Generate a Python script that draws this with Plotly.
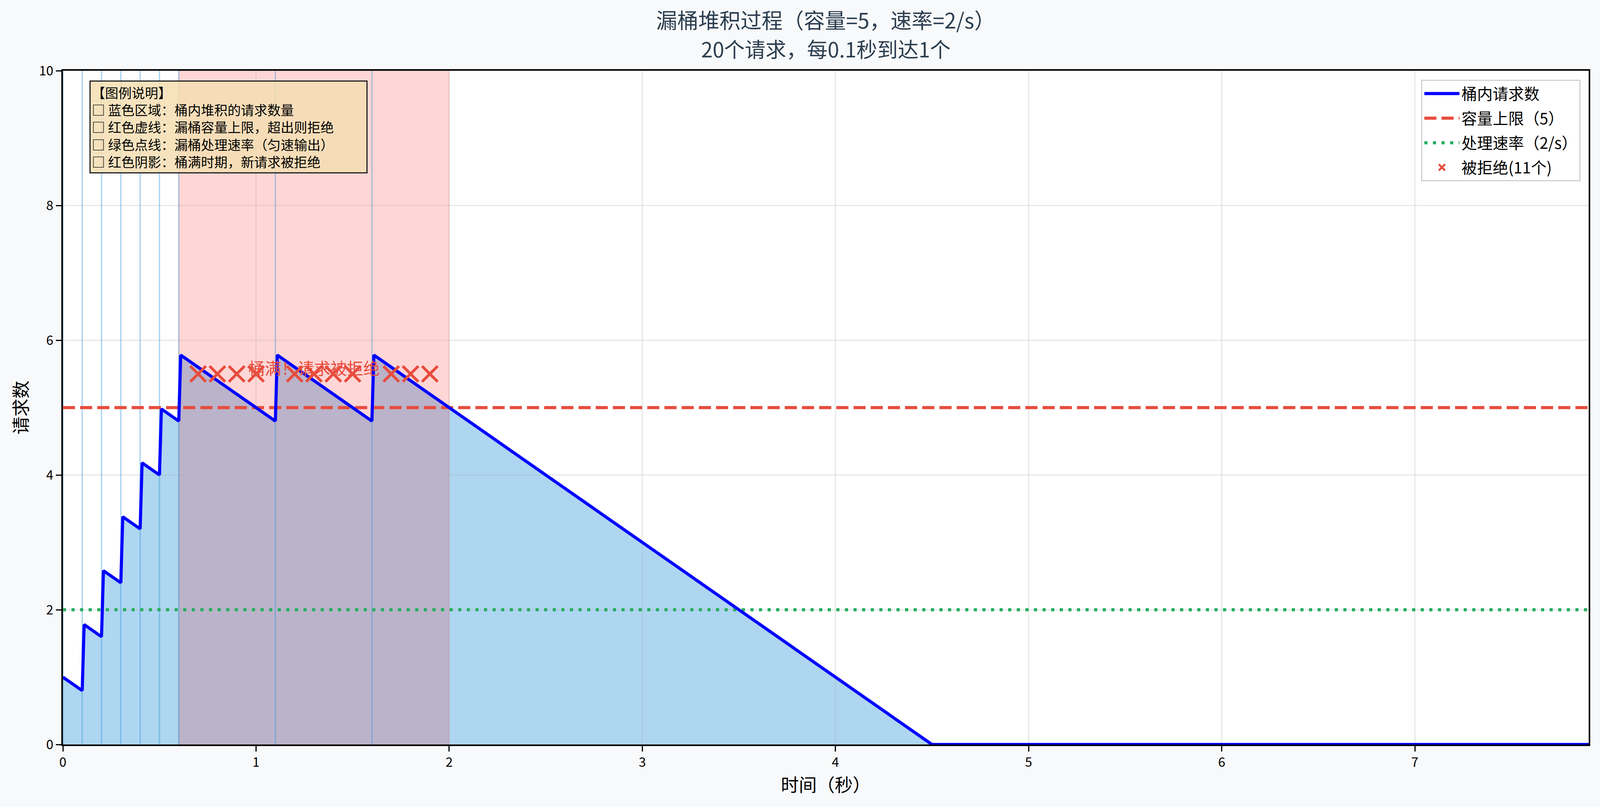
import plotly.graph_objects as go

# 漏桶参数
capacity = 5
rate = 2
x_max = 7.9
y_max = 10

# 桶内请求数（折线顶点，读自原图）
t_level = [0.00, 0.10, 0.11, 0.20, 0.21, 0.30, 0.31, 0.40, 0.41, 0.50, 0.51,
           0.60, 0.61, 1.10, 1.11, 1.60, 1.61, 4.50, 7.90]
level = [1.00, 0.80, 1.78, 1.60, 2.58, 2.40, 3.38, 3.20, 4.18, 4.00, 4.98,
         4.80, 5.78, 4.80, 5.78, 4.80, 5.78, 0.00, 0.00]

# 请求到达时间
accepted_t = [0.0, 0.1, 0.2, 0.3, 0.4, 0.5, 0.6, 1.1, 1.6]
rejected_t = [0.7, 0.8, 0.9, 1.0, 1.2, 1.3, 1.4, 1.5, 1.7, 1.8, 1.9]
rejected_y = 5.5

# 桶满时期
full_start = 0.6
full_end = 2.0

x_ticks = [0, 1, 2, 3, 4, 5, 6, 7]
y_ticks = [0, 2, 4, 6, 8, 10]

title_1 = "漏桶堆积过程（容量=5，速率=2/s）"
title_2 = "20个请求，每0.1秒到达1个"

info_lines = [
    "【图例说明】",
    "□ 蓝色区域：桶内堆积的请求数量",
    "□ 红色虚线：漏桶容量上限，超出则拒绝",
    "□ 绿色点线：漏桶处理速率（匀速输出）",
    "□ 红色阴影：桶满时期，新请求被拒绝",
]

FONT = "Noto Sans CJK SC"
RED = "#e74c3c"
GREEN = "#27ae60"

W, H = 4168, 2066
ML, MR, MT, MB = 161, 29, 181, 160


def px_x(p):
    return (p - ML) / (W - ML - MR)


def px_y(p):
    return (H - MB - p) / (H - MT - MB)


fig = go.Figure()

# 蓝色填充区域
fig.add_trace(go.Scatter(x=t_level, y=level, mode="lines", fill="tozeroy",
                         line=dict(width=0), fillcolor="rgba(52,152,219,0.4)",
                         showlegend=False, hoverinfo="skip"))

# 桶满阴影
fig.add_trace(go.Scatter(x=[full_start, full_end, full_end, full_start, full_start],
                         y=[0, 0, y_max, y_max, 0], mode="lines", fill="toself",
                         fillcolor="rgba(255,0,0,0.16)",
                         line=dict(width=2, color="rgba(255,0,0,0.16)"),
                         showlegend=False, hoverinfo="skip"))

# 网格（画在填充之上，和原图一样）
gx, gy = [], []
for v in x_ticks:
    gx += [v, v, None]
    gy += [0, y_max, None]
for v in y_ticks:
    gx += [0, x_max, None]
    gy += [v, v, None]
fig.add_trace(go.Scatter(x=gx, y=gy, mode="lines",
                         line=dict(width=3, color="rgba(176,176,176,0.3)"),
                         showlegend=False, hoverinfo="skip"))

# 请求到达竖线
ax_, ay_ = [], []
for v in accepted_t:
    ax_ += [v, v, None]
    ay_ += [0, y_max, None]
fig.add_trace(go.Scatter(x=ax_, y=ay_, mode="lines",
                         line=dict(width=3.5, color="rgba(52,152,219,0.4)"),
                         showlegend=False, hoverinfo="skip"))

# 容量上限 / 处理速率
fig.add_trace(go.Scatter(x=[0, x_max], y=[capacity, capacity], mode="lines",
                         name="容量上限（5）", legendrank=2, legendgroup="g2",
                         line=dict(color=RED, width=8, dash="31px,13px")))
fig.add_trace(go.Scatter(x=[0, x_max], y=[rate, rate], mode="lines",
                         name="处理速率（2/s）", legendrank=3, legendgroup="g3",
                         line=dict(color=GREEN, width=8, dash="8px,14px")))

# 桶内请求数
fig.add_trace(go.Scatter(x=t_level, y=level, mode="lines", name="桶内请求数",
                         legendrank=1, legendgroup="g1",
                         line=dict(color="#0000ff", width=8)))

# 被拒绝的请求
fig.add_trace(go.Scatter(x=rejected_t, y=[rejected_y] * len(rejected_t),
                         mode="markers", name=f"被拒绝({len(rejected_t)}个)",
                         legendrank=4, legendgroup="g4",
                         marker=dict(symbol="x-thin", size=40,
                                     line=dict(color=RED, width=7))))

fig.add_annotation(x=1.3, y=5.6, xref="x", yref="y", text="桶满！请求被拒绝",
                   showarrow=False, xanchor="center", yanchor="middle",
                   font=dict(family=FONT, size=42, color=RED))

# 说明框
fig.add_annotation(x=px_x(230), y=px_y(206), xref="paper", yref="paper",
                   text="<br>".join(info_lines), showarrow=False,
                   xanchor="left", yanchor="top", align="left",
                   width=700, font=dict(family=FONT, size=34, color="black"),
                   bgcolor="rgba(245,222,179,0.85)", bordercolor="#222222",
                   borderwidth=3, borderpad=3)

# 副标题
fig.add_annotation(x=0.5, y=px_y(124), xref="paper", yref="paper", text=title_2,
                   showarrow=False, xanchor="center", yanchor="middle",
                   font=dict(family=FONT, size=53, color="#2c3e50"))

axis_common = dict(showline=True, mirror=True, linecolor="black", linewidth=3.5,
                   ticks="outside", ticklen=14, tickwidth=3, tickcolor="black",
                   showgrid=False, zeroline=False,
                   tickfont=dict(family=FONT, size=33, color="black"))

fig.update_xaxes(range=[0, x_max], tickvals=x_ticks, **axis_common,
                 title=dict(text="时间（秒）", standoff=18,
                            font=dict(family=FONT, size=46, color="black")))
fig.update_yaxes(range=[0, y_max], tickvals=y_ticks, **axis_common,
                 title=dict(text="请求数", standoff=16,
                            font=dict(family=FONT, size=46, color="black")))

fig.update_layout(
    autosize=True,
    margin=dict(l=ML, r=MR, t=MT, b=MB),
    paper_bgcolor="#f8f9fa", plot_bgcolor="white",
    font=dict(family=FONT),
    title=dict(text=title_1, x=0.5, xref="paper", y=1 - 54 / H, yref="container",
               xanchor="center", yanchor="middle",
               font=dict(family=FONT, size=54, color="#2c3e50")),
    legend=dict(x=0.9947, y=0.9867, xanchor="right", yanchor="top",
                bgcolor="rgba(255,255,255,0.8)", bordercolor="#d0d0d0",
                borderwidth=3, font=dict(family=FONT, size=40, color="black"),
                itemwidth=90, tracegroupgap=8),
)

# 图表铺满窗口，页面无边距
fig.write_html("out.html",
               config={"responsive": True, "displayModeBar": False},
               default_width="100vw", default_height="100vh",
               post_script="document.body.style.margin='0';"
                           "document.body.style.overflow='hidden';"
                           "document.body.style.background='#f8f9fa';")
